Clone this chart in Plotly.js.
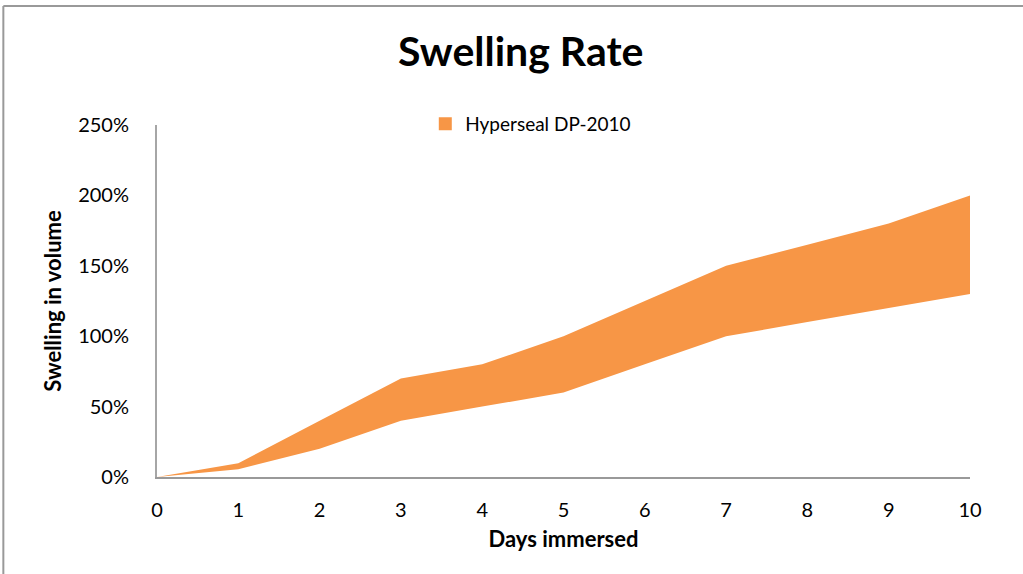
<!DOCTYPE html>
<html>
<head>
<meta charset="utf-8">
<script src="https://cdn.plot.ly/plotly-3.0.1.min.js"></script>
<style>html,body{margin:0;padding:0;background:#fff;}#chart{width:1023px;height:574px;}</style>
</head>
<body>
<div id="chart"></div>
<script>
const days = [0, 1, 2, 3, 4, 5, 6, 7, 8, 9, 10];
const lowerSwelling = [0, 0.055, 0.20, 0.40, 0.50, 0.60, 0.80, 1.00, 1.10, 1.20, 1.30];
const upperSwelling = [0, 0.097, 0.40, 0.70, 0.80, 1.00, 1.25, 1.50, 1.65, 1.80, 2.00];
const seriesName = "Hyperseal DP-2010";
const yTickVals = [0, 0.5, 1.0, 1.5, 2.0, 2.5];
const yTickText = ["0%", "50%", "100%", "150%", "200%", "250%"];
const xTickVals = [0, 1, 2, 3, 4, 5, 6, 7, 8, 9, 10];

const fillColor = "#F79646";
const font = "Lato, 'Open Sans', 'Liberation Sans', sans-serif";

const traces = [
  {x: days, y: lowerSwelling, type: "scatter", mode: "lines", line: {width: 0, color: fillColor},
   showlegend: false, hoverinfo: "skip"},
  {x: days, y: upperSwelling, type: "scatter", mode: "lines", line: {width: 0, color: fillColor},
   fill: "tonexty", fillcolor: fillColor, name: seriesName, showlegend: false},
  {x: [null], y: [null], type: "scatter", mode: "markers", name: seriesName,
   marker: {symbol: "square", size: 13, color: fillColor}, showlegend: true}
];

const layout = {
  width: 1023, height: 574,
  margin: {l: 157, r: 53, t: 125, b: 97},
  paper_bgcolor: "#fff", plot_bgcolor: "#fff",
  font: {family: font, color: "#000", size: 20},
  title: {text: "<b>Swelling Rate</b>", x: 0.509, xanchor: "center", y: 0.91, yanchor: "middle",
          font: {family: font, size: 41, color: "#000"}},
  showlegend: true,
  legend: {orientation: "h", x: 0.33, xanchor: "left", y: 1.003, yanchor: "middle",
           font: {family: font, size: 19, color: "#000"}, bgcolor: "rgba(0,0,0,0)"},
  xaxis: {range: [0, 10], tickvals: xTickVals, showgrid: false, zeroline: false,
          showline: true, linecolor: "#999", linewidth: 2, ticks: "", ticklen: 0,
          tickfont: {size: 20}, ticklabelstandoff: 14, fixedrange: true,
          title: {text: "<b>Days immersed</b>", font: {size: 22}, standoff: 12}},
  yaxis: {range: [0, 2.5], tickvals: yTickVals, ticktext: yTickText, showgrid: false, zeroline: false,
          showline: true, linecolor: "#a6a6a6", linewidth: 2, ticks: "", ticklen: 0,
          tickfont: {size: 20}, ticklabelstandoff: 22, fixedrange: true,
          title: {text: "<b>Swelling in volume</b>", font: {size: 22}, standoff: 10}},
  shapes: [
    {type: "line", xref: "paper", yref: "paper", x0: -0.189, x1: 1.2, y0: 1.338, y1: 1.338,
     line: {color: "#999", width: 2}},
    {type: "line", xref: "paper", yref: "paper", x0: -0.189, x1: -0.189, y0: 1.338, y1: -0.4,
     line: {color: "#999", width: 2}}
  ]
};

Plotly.newPlot("chart", traces, layout, {displayModeBar: false, staticPlot: true});
</script>
</body>
</html>
